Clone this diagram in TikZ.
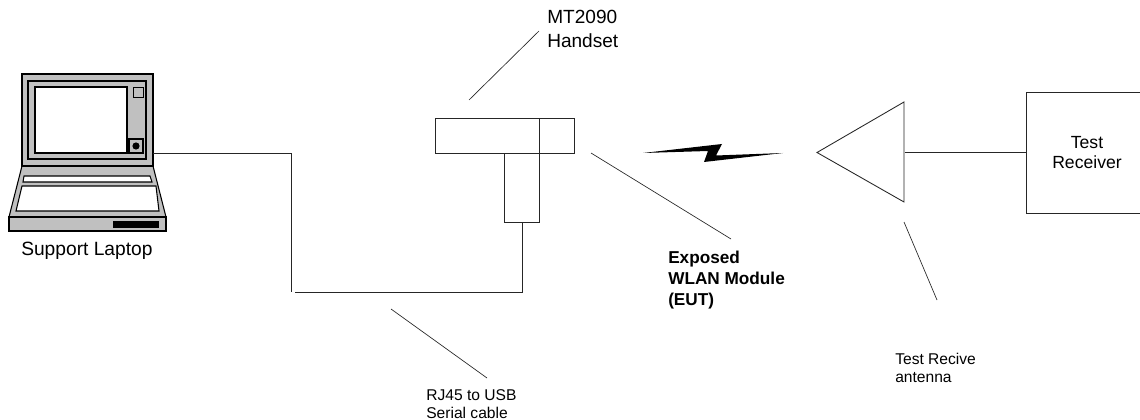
\documentclass[tikz,border=0pt]{standalone}
\usepackage{fontspec}
\setmainfont{Liberation Sans}
\usetikzlibrary{calc}
\definecolor{lapgray}{RGB}{192,192,192}
\tikzset{
  x=0.75pt,y=-0.75pt,
  wire/.style={draw=black!85,line width=0.65pt},
  lapline/.style={draw=black,line width=0.8pt},
  lbl/.style={inner sep=0pt,align=left,anchor=north west,font=\fontsize{14.3pt}{17.6pt}\selectfont},
  small/.style={inner sep=0pt,align=left,anchor=north west,font=\fontsize{11.7pt}{14pt}\selectfont},
  boxnode/.style={draw=black!85,line width=0.65pt,inner sep=0pt,outer sep=0pt,anchor=north west},
}
\begin{document}
\begin{tikzpicture}
\useasboundingbox (0,0) rectangle (1140,420);
% laptop
\draw[lapline,fill=lapgray] (22,166) -- (153,166) -- (166,217) -- (9,217) -- cycle;
\draw[lapline,fill=lapgray] (9,217) rectangle (166,231);
\fill[black] (113,221) rectangle (159,228);
\draw[lapline,fill=white] (24,176) -- (150,176) -- (152,182) -- (23,182) -- cycle;
\draw[lapline,fill=white] (22,186) -- (156,186) -- (159,211) -- (16,211) -- cycle;
\node[boxnode,line width=0.8pt,draw=black,fill=lapgray,minimum width=131*0.75pt,minimum height=92*0.75pt] (lid) at (22,74) {};
\draw[lapline,fill=lapgray] (28,81) rectangle (146,159);
\draw[lapline,fill=white] (35,87) rectangle (127,153);
\draw[draw=black,line width=0.5pt,fill=lapgray] (133,87) rectangle (143,97);
\draw[lapline,fill=lapgray] (129,139) rectangle (143,153);
\fill[black] (136,146) circle[radius=3.6];
\node[inner sep=0pt,anchor=base west,font=\fontsize{14.4pt}{14pt}\selectfont] (laplabel) at (21,256) {Support Laptop};
% handset
\node[boxnode,minimum width=139*0.75pt,minimum height=35*0.75pt] (head) at (435,118) {};
\node[boxnode,minimum width=35*0.75pt,minimum height=69*0.75pt] (grip) at (504,153) {};
\draw[wire] (539,118) -- (539,153);
\coordinate (lapport) at (153,153);
\coordinate (c1) at (291.5,153);
\coordinate (c2) at (291.5,292);
\coordinate (c3) at (295,292);
\coordinate (c4) at (522.5,292);
\coordinate (c5) at (522.5,222);
\draw[wire] (lapport) -- (c1) -- (c2);
\draw[wire] (c3) -- (c4) -- (c5);
% labels
\node[lbl] (mt) at (547,10) {MT2090\\Handset};
\coordinate (m1) at (469,100); \coordinate (m2) at (539,31);
\draw[wire,line width=0.5pt] (m1) -- (m2);
\coordinate (e1) at (591,153); \coordinate (e2) at (731,239);
\draw[wire,line width=0.5pt] (e1) -- (e2);
\node[lbl,font=\fontsize{12.9pt}{15.8pt}\selectfont\bfseries] (exp) at (668,251) {Exposed\\WLAN Module\\(EUT)};
% lightning
\fill[black] (643,153) -- (722,144) -- (716,155.5) -- (783,153) -- (704,162) -- (708,151) -- cycle;
% antenna and receiver
\node[draw=none,inner sep=0pt] (ant) at (904,152.5) {};
\draw[wire] (904,102) -- (817,152.5) -- (904,202) -- cycle;
\coordinate (r1) at (1026,92); \coordinate (r2) at (1026,213); \coordinate (r3) at (1140,213); \coordinate (r0) at (1140,92); \coordinate (rm) at (1026,152.5);
\draw[wire] (r0) -- (r1) -- (r2) -- (r3);
\draw[wire] (ant) -- (rm);
\node[inner sep=0pt,align=center,font=\fontsize{13.2pt}{15pt}\selectfont] (rx) at (1087,153) {Test\\Receiver};
\coordinate (a1) at (904,222); \coordinate (a2) at (937,300);
\draw[wire,line width=0.5pt] (a1) -- (a2);
\node[small,font=\fontsize{11.7pt}{13.5pt}\selectfont] (tr) at (895,353) {Test Recive\\antenna};
\coordinate (j1) at (391,309); \coordinate (j2) at (487,378);
\draw[wire,line width=0.5pt] (j1) -- (j2);
\node[small] (rj) at (426,389) {RJ45 to USB\\Serial cable};
\end{tikzpicture}
\end{document}
